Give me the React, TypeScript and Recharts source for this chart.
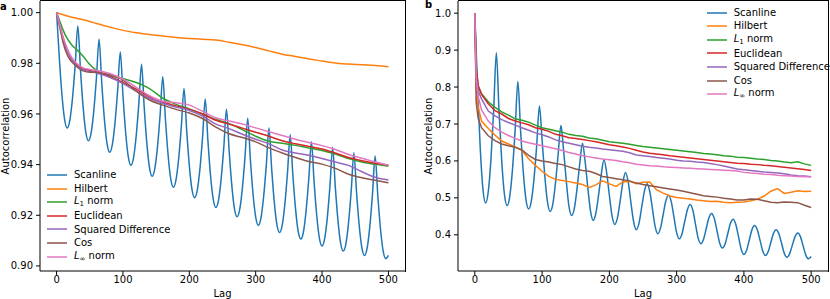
import React from "react";
import { LineChart, Line, XAxis, YAxis, Legend } from "recharts";

const FONT = "'DejaVu Sans', sans-serif";

// ---------- categories / ticks ----------
const X_DOMAIN: [number, number] = [-25, 525];
const X_TICKS = [0, 100, 200, 300, 400, 500];
const LEFT_Y_TICKS = [0.9, 0.92, 0.94, 0.96, 0.98, 1.0];
const RIGHT_Y_TICKS = [0.4, 0.5, 0.6, 0.7, 0.8, 0.9, 1.0];
const LEFT_Y_DOMAIN: [number, number] = [0.898, 1.0046];
const RIGHT_Y_DOMAIN: [number, number] = [0.302, 1.033];

const SCAN_LAGS = [
  0, 4, 8, 12, 16, 20, 24, 28, 32, 36, 40, 44, 48, 52, 56, 60, 64, 68, 72, 76, 80, 84, 88, 92,
  96, 100, 104, 108, 112, 116, 120, 124, 128, 132, 136, 140, 144, 148, 152, 156, 160, 164, 168,
  172, 176, 180, 184, 188, 192, 196, 200, 204, 208, 212, 216, 220, 224, 228, 232, 236, 240, 244,
  248, 252, 256, 260, 264, 268, 272, 276, 280, 284, 288, 292, 296, 300, 304, 308, 312, 316, 320,
  324, 328, 332, 336, 340, 344, 348, 352, 356, 360, 364, 368, 372, 376, 380, 384, 388, 392, 396,
  400, 404, 408, 412, 416, 420, 424, 428, 432, 436, 440, 444, 448, 452, 456, 460, 464, 468, 472,
  476, 480, 484, 488, 492, 496, 500,
];

const LEFT_LAGS = [
  0, 5, 10, 15, 20, 25, 30, 40, 50, 60, 80, 100, 120, 140, 160, 180, 200, 220, 240, 260, 280, 300,
  320, 340, 360, 380, 400, 420, 440, 460, 480, 500,
];

const RIGHT_LAGS = [
  0, 2, 5, 10, 20, 30, 40, 50, 60, 70, 80, 90, 100, 110, 120, 130, 140, 150, 160, 170, 180, 190,
  200, 210, 220, 230, 240, 250, 260, 270, 280, 290, 300, 310, 320, 330, 340, 350, 360, 370, 380,
  390, 400, 410, 420, 430, 440, 450, 460, 470, 480, 490, 500,
];

// ---------- panel a values ----------
const SCANLINE_A = [
  1.0, 0.9826, 0.9678, 0.958, 0.9545, 0.9576, 0.9663, 0.9793,
  0.9947, 0.9774, 0.9627, 0.9528, 0.9494, 0.9524, 0.9611, 0.9741,
  0.9895, 0.9724, 0.958, 0.9483, 0.9449, 0.9479, 0.9565, 0.9693,
  0.9845, 0.9674, 0.9529, 0.9432, 0.9398, 0.9428, 0.9515, 0.9644,
  0.9796, 0.9627, 0.9484, 0.9388, 0.9354, 0.9384, 0.9469, 0.9596,
  0.9747, 0.958, 0.9439, 0.9344, 0.9311, 0.9341, 0.9425, 0.9552,
  0.9701, 0.9536, 0.9396, 0.9302, 0.9269, 0.9299, 0.9383, 0.951,
  0.9659, 0.9495, 0.9356, 0.9264, 0.9231, 0.926, 0.9345, 0.947,
  0.9619, 0.9456, 0.9319, 0.9226, 0.9194, 0.9224, 0.9308, 0.9434,
  0.9583, 0.9421, 0.9285, 0.9193, 0.9161, 0.919, 0.9274, 0.9398,
  0.9545, 0.9387, 0.9253, 0.9163, 0.9132, 0.9161, 0.9245, 0.937,
  0.9518, 0.936, 0.9227, 0.9137, 0.9106, 0.9135, 0.9219, 0.9343,
  0.949, 0.9333, 0.9199, 0.911, 0.9079, 0.9109, 0.9193, 0.9319,
  0.9468, 0.9311, 0.9179, 0.909, 0.9059, 0.9088, 0.9173, 0.9298,
  0.9447, 0.9291, 0.916, 0.9072, 0.9041, 0.9071, 0.9156, 0.9283,
  0.9434, 0.9279, 0.9148, 0.906, 0.9029, 0.9042,
];
const HILBERT_A = [
  1.0, 0.9996, 0.9992, 0.9988, 0.9984, 0.9981, 0.9978, 0.9972, 0.9965, 0.9957, 0.9943, 0.993,
  0.9921, 0.9914, 0.9908, 0.9902, 0.9898, 0.9895, 0.9892, 0.9883, 0.9873, 0.9862, 0.9849, 0.9836,
  0.9827, 0.9817, 0.9809, 0.9801, 0.9797, 0.9794, 0.9791, 0.9786,
];
const L1_A = [
  1.0, 0.9965, 0.993, 0.9902, 0.9882, 0.9866, 0.9855, 0.9828, 0.9795, 0.9772, 0.9752, 0.974,
  0.9724, 0.97, 0.9662, 0.9638, 0.962, 0.96, 0.9578, 0.9562, 0.9538, 0.9512, 0.9492, 0.9484,
  0.9476, 0.9466, 0.9456, 0.9442, 0.9424, 0.941, 0.9401, 0.9394,
];
const EUCLID_A = [
  1.0, 0.995, 0.99, 0.986, 0.983, 0.981, 0.9795, 0.9778, 0.9772, 0.9766, 0.9748, 0.9725, 0.9698,
  0.9668, 0.9647, 0.9632, 0.9618, 0.96, 0.9575, 0.956, 0.9544, 0.9528, 0.9512, 0.9494, 0.9482,
  0.9472, 0.9462, 0.9446, 0.9428, 0.9415, 0.9405, 0.9398,
];
const SQDIFF_A = [
  1.0, 0.9945, 0.989, 0.9855, 0.9825, 0.9805, 0.979, 0.9775, 0.9768, 0.9762, 0.9745, 0.972, 0.969,
  0.9662, 0.9642, 0.9627, 0.9614, 0.9592, 0.956, 0.9542, 0.952, 0.95, 0.9482, 0.9458, 0.9446,
  0.9437, 0.9424, 0.941, 0.9397, 0.9372, 0.935, 0.9339,
];
const COS_A = [
  1.0, 0.994, 0.988, 0.984, 0.9815, 0.98, 0.9788, 0.977, 0.9765, 0.9765, 0.9755, 0.9734, 0.969,
  0.9655, 0.9635, 0.9618, 0.9604, 0.9582, 0.9548, 0.9522, 0.9507, 0.949, 0.9466, 0.9446, 0.9428,
  0.9412, 0.9402, 0.9385, 0.9362, 0.9348, 0.9338, 0.9328,
];
const LINF_A = [
  1.0, 0.995, 0.99, 0.9865, 0.9835, 0.9815, 0.98, 0.9782, 0.9776, 0.9772, 0.976, 0.9738, 0.9705,
  0.9672, 0.965, 0.9644, 0.9635, 0.961, 0.9585, 0.9572, 0.956, 0.9545, 0.953, 0.9515, 0.95,
  0.9487, 0.9475, 0.946, 0.944, 0.9425, 0.941, 0.9398,
];

// ---------- panel b values ----------
const SCANLINE_B = [
  1.0, 0.803, 0.637, 0.525, 0.486, 0.517, 0.605, 0.737,
  0.893, 0.734, 0.6, 0.51, 0.479, 0.505, 0.577, 0.686,
  0.815, 0.683, 0.571, 0.496, 0.47, 0.491, 0.552, 0.642,
  0.749, 0.657, 0.56, 0.489, 0.463, 0.484, 0.542, 0.621,
  0.696, 0.628, 0.545, 0.476, 0.452, 0.472, 0.526, 0.593,
  0.648, 0.598, 0.527, 0.464, 0.439, 0.459, 0.508, 0.564,
  0.603, 0.568, 0.507, 0.451, 0.428, 0.446, 0.491, 0.541,
  0.569, 0.543, 0.488, 0.436, 0.414, 0.431, 0.474, 0.517,
  0.538, 0.518, 0.471, 0.423, 0.403, 0.418, 0.455, 0.492,
  0.507, 0.49, 0.448, 0.406, 0.389, 0.403, 0.436, 0.468,
  0.482, 0.467, 0.429, 0.391, 0.376, 0.388, 0.417, 0.446,
  0.458, 0.444, 0.411, 0.378, 0.364, 0.375, 0.403, 0.431,
  0.442, 0.428, 0.395, 0.361, 0.347, 0.358, 0.386, 0.414,
  0.425, 0.413, 0.385, 0.356, 0.344, 0.354, 0.379, 0.404,
  0.414, 0.403, 0.377, 0.35, 0.339, 0.349, 0.372, 0.395,
  0.405, 0.395, 0.37, 0.345, 0.335, 0.341,
];
const HILBERT_B = [
  1.0, 0.8, 0.745, 0.708, 0.688, 0.67, 0.654, 0.646, 0.638, 0.628, 0.606, 0.588, 0.572, 0.558,
  0.55, 0.547, 0.544, 0.54, 0.536, 0.528, 0.535, 0.546, 0.538, 0.531, 0.543, 0.545, 0.538, 0.542,
  0.543, 0.522, 0.513, 0.505, 0.501, 0.499, 0.497, 0.494, 0.492, 0.49, 0.491, 0.488, 0.487, 0.488,
  0.489, 0.492, 0.496, 0.505, 0.518, 0.525, 0.512, 0.515, 0.519, 0.517, 0.518,
];
const L1_B = [
  1.0, 0.86, 0.8, 0.782, 0.76, 0.745, 0.733, 0.724, 0.714, 0.71, 0.705, 0.697, 0.69, 0.686, 0.682,
  0.678, 0.672, 0.669, 0.667, 0.662, 0.66, 0.656, 0.652, 0.65, 0.648, 0.645, 0.642, 0.639, 0.637,
  0.635, 0.633, 0.631, 0.629, 0.627, 0.625, 0.623, 0.62, 0.619, 0.617, 0.614, 0.613, 0.61, 0.609,
  0.607, 0.605, 0.604, 0.601, 0.6, 0.597, 0.595, 0.598, 0.592, 0.588,
];
const EUCLID_B = [
  1.0, 0.85, 0.805, 0.78, 0.755, 0.736, 0.727, 0.715, 0.708, 0.703, 0.698, 0.69, 0.686, 0.68,
  0.672, 0.668, 0.663, 0.661, 0.658, 0.655, 0.652, 0.648, 0.644, 0.641, 0.638, 0.634, 0.629,
  0.624, 0.621, 0.619, 0.617, 0.614, 0.612, 0.61, 0.608, 0.606, 0.604, 0.602, 0.6, 0.598, 0.596,
  0.594, 0.593, 0.591, 0.59, 0.588, 0.587, 0.585, 0.583, 0.581, 0.579, 0.577, 0.574,
];
const SQDIFF_B = [
  1.0, 0.83, 0.79, 0.768, 0.735, 0.722, 0.712, 0.704, 0.697, 0.69, 0.683, 0.676, 0.671, 0.665,
  0.657, 0.652, 0.648, 0.644, 0.64, 0.637, 0.635, 0.632, 0.63, 0.628, 0.626, 0.622, 0.616, 0.614,
  0.612, 0.609, 0.607, 0.605, 0.602, 0.6, 0.599, 0.597, 0.596, 0.593, 0.59, 0.586, 0.582, 0.578,
  0.576, 0.574, 0.572, 0.57, 0.569, 0.567, 0.565, 0.562, 0.56, 0.559, 0.557,
];
const COS_B = [
  1.0, 0.76, 0.715, 0.69, 0.668, 0.655, 0.646, 0.641, 0.637, 0.63, 0.615, 0.604, 0.6, 0.597, 0.593,
  0.59, 0.584, 0.578, 0.574, 0.572, 0.566, 0.558, 0.555, 0.552, 0.549, 0.546, 0.54, 0.536, 0.533,
  0.53, 0.527, 0.524, 0.521, 0.518, 0.514, 0.51, 0.506, 0.504, 0.502, 0.499, 0.497, 0.494, 0.494,
  0.497, 0.496, 0.492, 0.488, 0.487, 0.489, 0.488, 0.487, 0.48, 0.474,
];
const LINF_B = [
  1.0, 0.82, 0.775, 0.738, 0.708, 0.69, 0.678, 0.669, 0.661, 0.654, 0.649, 0.645, 0.641, 0.637,
  0.633, 0.628, 0.623, 0.619, 0.614, 0.611, 0.608, 0.605, 0.603, 0.601, 0.598, 0.595, 0.591, 0.589,
  0.587, 0.586, 0.584, 0.583, 0.582, 0.581, 0.58, 0.579, 0.578, 0.577, 0.576, 0.575, 0.574, 0.573,
  0.569, 0.567, 0.566, 0.564, 0.563, 0.561, 0.56, 0.559, 0.558, 0.557, 0.557,
];

// ---------- series meta ----------
const COLORS = ["#1f77b4", "#ff7f0e", "#2ca02c", "#d62728", "#9467bd", "#8c564b", "#e377c2"];
const NAMES = ["Scanline", "Hilbert", "L1 norm", "Euclidean", "Squared Difference", "Cos", "L∞ norm"];

const pts = (lags: number[], vals: number[]) => lags.map((lag, i) => ({ lag, v: vals[i] }));

const PANEL_A = [
  pts(SCAN_LAGS, SCANLINE_A),
  pts(LEFT_LAGS, HILBERT_A),
  pts(LEFT_LAGS, L1_A),
  pts(LEFT_LAGS, EUCLID_A),
  pts(LEFT_LAGS, SQDIFF_A),
  pts(LEFT_LAGS, COS_A),
  pts(LEFT_LAGS, LINF_A),
];
const PANEL_B = [
  pts(SCAN_LAGS, SCANLINE_B),
  pts(RIGHT_LAGS, HILBERT_B),
  pts(RIGHT_LAGS, L1_B),
  pts(RIGHT_LAGS, EUCLID_B),
  pts(RIGHT_LAGS, SQDIFF_B),
  pts(RIGHT_LAGS, COS_B),
  pts(RIGHT_LAGS, LINF_B),
];

const renderName = (name: string) => {
  if (name === "L1 norm")
    return (
      <>
        <i>L</i>
        <span style={{ fontSize: 7, position: "relative", top: 2 }}>1</span> norm
      </>
    );
  if (name === "L∞ norm")
    return (
      <>
        <i>L</i>
        <span style={{ fontSize: 7, position: "relative", top: 2 }}>∞</span> norm
      </>
    );
  return name;
};

const LegendBox = () => (
  <div style={{ fontFamily: FONT, fontSize: 10, color: "#000" }}>
    {NAMES.map((n, i) => (
      <div key={n} style={{ display: "flex", alignItems: "center", height: 13.6 }}>
        <svg width={20} height={4} style={{ display: "block" }}>
          <line x1={0} y1={2} x2={20} y2={2} stroke={COLORS[i]} strokeWidth={1.5} />
        </svg>
        <span style={{ marginLeft: 7, whiteSpace: "nowrap", lineHeight: "13.6px" }}>{renderName(n)}</span>
      </div>
    ))}
  </div>
);

const tickStyle = { fontSize: 10, fill: "#000", fontFamily: FONT };
const axisLine = { stroke: "#000", strokeWidth: 1 };

const CHART_H = 299;
const MARGIN_TOP = 1;
const Y_AXIS_W = 40;
const X_AXIS_H = 28;

type PanelProps = {
  series: { lag: number; v: number }[][];
  yDomain: [number, number];
  yTicks: number[];
  digits: number;
  width: number;
  rightMargin: number;
  labelOffset: number;
  legendPos: { left: number; top: number };
  curve: "monotone" | "linear";
};

const Panel = ({ series, yDomain, yTicks, digits, width, rightMargin, labelOffset, legendPos, curve }: PanelProps) => (
  <div style={{ position: "relative", width, height: CHART_H }}>
    <LineChart width={width} height={CHART_H} margin={{ top: MARGIN_TOP, right: rightMargin, bottom: 0, left: 0 }}>
      <XAxis
        dataKey="lag"
        type="number"
        domain={X_DOMAIN}
        ticks={X_TICKS}
        tick={tickStyle}
        tickSize={4}
        tickMargin={1}
        height={X_AXIS_H}
        axisLine={axisLine}
        tickLine={{ stroke: "#000" }}
        label={{
          value: "Lag",
          position: "insideBottom",
          offset: 2.5,
          style: { fontSize: 10, fill: "#000", fontFamily: FONT },
        }}
      />
      <YAxis
        type="number"
        domain={yDomain}
        ticks={yTicks}
        tickFormatter={(v: number) => v.toFixed(digits)}
        tick={tickStyle}
        tickSize={4}
        tickMargin={3}
        width={Y_AXIS_W}
        axisLine={axisLine}
        tickLine={{ stroke: "#000" }}
        allowDataOverflow
        label={{
          value: "Autocorrelation",
          angle: -90,
          position: "insideLeft",
          offset: labelOffset,
          style: { textAnchor: "middle", fontSize: 10, fill: "#000", fontFamily: FONT },
        }}
      />
      {series.map((d, i) => (
        <Line
          key={NAMES[i]}
          data={d}
          dataKey="v"
          name={NAMES[i]}
          type={i === 0 ? "monotone" : curve}
          stroke={COLORS[i]}
          strokeWidth={1.5}
          dot={false}
          activeDot={false}
          isAnimationActive={false}
        />
      ))}
      <Legend
        layout="vertical"
        align="center"
        verticalAlign="middle"
        content={() => <LegendBox />}
        wrapperStyle={{ left: legendPos.left, top: legendPos.top, width: "auto", height: "auto" }}
      />
    </LineChart>
    {/* axes frame (top / right spines), derived from the chart margins */}
    <div
      style={{
        position: "absolute",
        left: Y_AXIS_W,
        top: MARGIN_TOP - 1,
        width: width - rightMargin - Y_AXIS_W + 1,
        height: CHART_H - X_AXIS_H - MARGIN_TOP + 2,
        borderTop: "1px solid #000",
        borderRight: "1px solid #000",
        boxSizing: "border-box",
        pointerEvents: "none",
      }}
    />
  </div>
);

export default function App() {
  return (
    <div style={{ position: "absolute", left: 0, top: 0, width: 830, height: 299, background: "#fff", fontFamily: FONT }}>
      <div style={{ position: "absolute", left: 0, top: 0 }}>
        <Panel
          series={PANEL_A}
          yDomain={LEFT_Y_DOMAIN}
          yTicks={LEFT_Y_TICKS}
          digits={2}
          width={415}
          rightMargin={10}
          labelOffset={5.5}
          legendPos={{ left: 47, top: 168.2 }}
          curve="monotone"
        />
      </div>
      <div style={{ position: "absolute", left: 418, top: 0 }}>
        <Panel
          series={PANEL_B}
          yDomain={RIGHT_Y_DOMAIN}
          yTicks={RIGHT_Y_TICKS}
          digits={1}
          width={412}
          rightMargin={2}
          labelOffset={10.3}
          legendPos={{ left: 288.7, top: 5.9 }}
          curve="linear"
        />
      </div>
      <div style={{ position: "absolute", left: 0, top: 1.5, fontSize: 10, fontWeight: "bold", lineHeight: "10px", color: "#000" }}>a</div>
      <div style={{ position: "absolute", left: 425, top: 0, fontSize: 10, fontWeight: "bold", lineHeight: "10px", color: "#000" }}>b</div>
    </div>
  );
}
